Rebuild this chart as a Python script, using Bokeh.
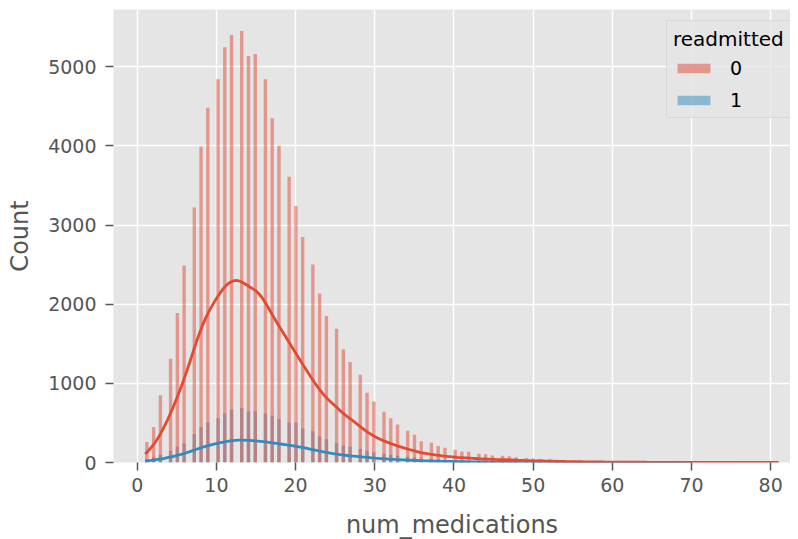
import numpy as np
from bokeh.plotting import figure
from bokeh.models import ColumnDataSource, Legend, LegendItem, SingleIntervalTicker, Range1d
from bokeh.embed import file_html
from bokeh.resources import INLINE

# ---- data ----
num_medications = list(range(1, 82))
count_readmitted_0 = [
    260, 450, 850, 1310, 1890, 2490, 3220, 3990, 4480, 4840,
    5245, 5400, 5450, 5135, 5160, 4840, 4350, 4000, 3610, 3240,
    2850, 2500, 2135, 1850, 1690, 1430, 1270, 1110, 880, 770,
    640, 560, 480, 400, 350, 270, 250, 210, 185, 160,
    140, 135, 110, 105, 90, 85, 80, 65, 58, 50,
    45, 40, 35, 30, 25, 22, 20, 16, 14, 12,
    10, 9, 8, 7, 6, 5, 5, 4, 4, 3,
    3, 3, 2, 2, 2, 1, 1, 1, 1, 1,
    1,
]
count_readmitted_1 = [
    45, 65, 95, 150, 200, 240, 360, 450, 505, 560,
    620, 665, 690, 645, 650, 620, 590, 550, 505, 505,
    430, 395, 330, 295, 245, 215, 200, 170, 150, 130,
    110, 95, 85, 72, 62, 50, 45, 38, 32, 28,
    24, 20, 18, 15, 13, 11, 10, 8, 7, 6,
    5, 4, 4, 3, 3, 2, 2, 2, 1, 1,
    1, 1, 1, 0, 1, 0, 0, 1, 0, 1,
    0, 0, 0, 0, 0, 0, 0, 0, 0, 0,
    0,
]
hue_labels = ["0", "1"]
x_ticks_step = 10
y_ticks_step = 1000
n_bins = 187  # histogram bins spanning the data range

RED = "#E24A33"
BLUE = "#348ABD"
GREY = "#555555"
FONT = "DejaVu Sans"

vals = np.array(num_medications, dtype=float)
edges = np.linspace(vals.min(), vals.max(), n_bins + 1)
binw = edges[1] - edges[0]
idx = np.clip(np.searchsorted(edges, vals, side="right") - 1, 0, n_bins - 1)
centers = edges[idx] + binw / 2


def kde_curve(counts):
    c = np.array(counts, dtype=float)
    n = c.sum()
    mean = (vals * c).sum() / n
    var = (((vals - mean) ** 2) * c).sum() / (n - 1)
    bw = np.sqrt(var) * n ** (-1 / 5)
    present = vals[c > 0]
    grid = np.linspace(present.min(), present.max(), 200)
    dens = (c[None, :] * np.exp(-0.5 * ((grid[:, None] - vals[None, :]) / bw) ** 2)).sum(1)
    dens /= n * bw * np.sqrt(2 * np.pi)
    return grid, dens * n * binw


ymax = max(max(count_readmitted_0), max(count_readmitted_1)) * 1.05

p = figure(
    frame_width=677, frame_height=453,
    x_range=Range1d(-3, 82.5), y_range=Range1d(0, ymax),
    output_backend="svg", toolbar_location=None,
    background_fill_color="#E5E5E5", border_fill_color="white",
    min_border_left=113, min_border_right=0, min_border_top=9, min_border_bottom=60,
)
p.outline_line_color = None

src0 = ColumnDataSource(dict(x=centers, top=count_readmitted_0))
src1 = ColumnDataSource(dict(x=centers, top=count_readmitted_1))
r1 = p.vbar(x="x", top="top", width=binw, bottom=0, source=src1,
            fill_color=BLUE, fill_alpha=0.5, line_color=None)
r0 = p.vbar(x="x", top="top", width=binw, bottom=0, source=src0,
            fill_color=RED, fill_alpha=0.5, line_color=None)

gx1, gy1 = kde_curve(count_readmitted_1)
gx0, gy0 = kde_curve(count_readmitted_0)
p.line(gx1, gy1, line_color=BLUE, line_width=2.8)
p.line(gx0, gy0, line_color=RED, line_width=2.8)

p.xaxis.ticker = SingleIntervalTicker(interval=x_ticks_step, num_minor_ticks=0)
p.yaxis.ticker = SingleIntervalTicker(interval=y_ticks_step, num_minor_ticks=0)
p.xaxis.axis_label = "num_medications"
p.yaxis.axis_label = "Count"
for ax in (p.xaxis, p.yaxis):
    ax.axis_line_color = None
    ax.major_tick_line_color = GREY
    ax.major_tick_line_width = 1.5
    ax.major_tick_out = 8
    ax.major_tick_in = 0
    ax.minor_tick_line_color = None
    ax.major_label_text_color = GREY
    ax.major_label_text_font = FONT
    ax.major_label_text_font_size = "19px"
    ax.axis_label_text_color = GREY
    ax.axis_label_text_font = FONT
    ax.axis_label_text_font_size = "24px"
    ax.axis_label_text_font_style = "normal"
p.xaxis.major_label_standoff = 7
p.yaxis.major_label_standoff = 9
p.xaxis.axis_label_standoff = 16
p.yaxis.axis_label_standoff = 11

p.xgrid.grid_line_color = "white"
p.ygrid.grid_line_color = "white"
p.xgrid.grid_line_width = 1.5
p.ygrid.grid_line_width = 1.5

legend = Legend(
    items=[LegendItem(label=hue_labels[0], renderers=[r0]),
           LegendItem(label=hue_labels[1], renderers=[r1])],
    title="readmitted",
    location=(553, 344),
    background_fill_color="#E5E5E5", background_fill_alpha=0.8,
    border_line_color="#CCCCCC", border_line_width=1.5,
    padding=6, spacing=9, title_standoff=5,
    glyph_width=41, glyph_height=12, label_standoff=16, label_height=23,
    label_text_font=FONT, label_text_font_size="19px", label_text_color="black",
    title_text_font=FONT, title_text_font_size="20px", title_text_color="black",
    title_text_font_style="normal",
)
p.add_layout(legend, "center")

open("out.html", "w").write(file_html(p, INLINE))
